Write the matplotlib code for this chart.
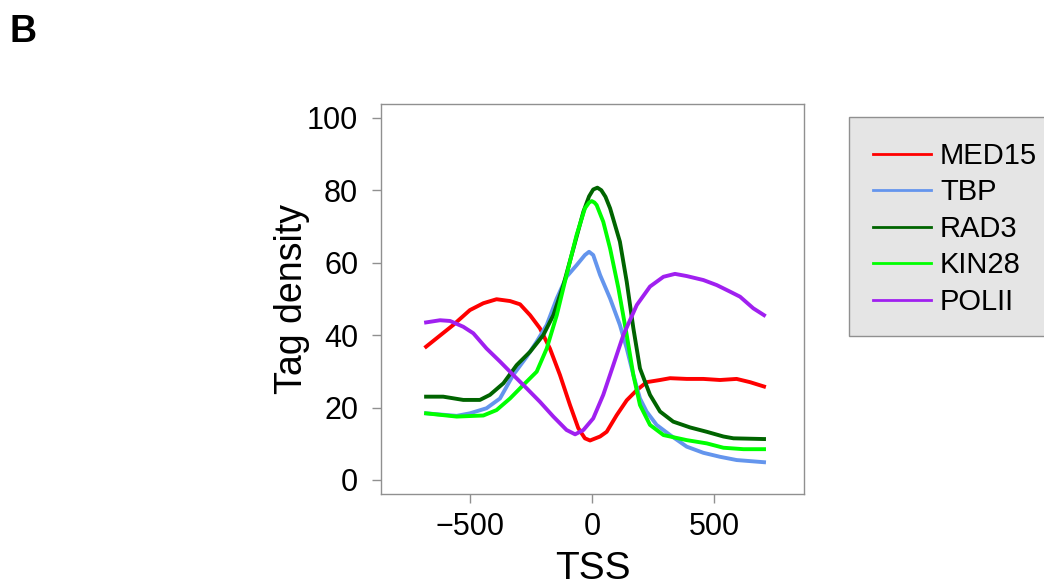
import matplotlib
matplotlib.use("Agg")
import matplotlib.pyplot as plt
from matplotlib.lines import Line2D
from matplotlib.patches import Rectangle

plt.rcParams["font.family"] = ["Liberation Sans", "DejaVu Sans"]

# values (x = distance to TSS, y = tag density)
med15_x = [-678, -567, -499, -444, -390, -335, -294, -253, -213, -172, -131, -90, -56, -29, -8,
           33, 60, 101, 142, 183, 223, 278, 319, 387, 455, 523, 591, 646, 703]
med15_y = [36.8, 42.8, 46.9, 48.8, 49.9, 49.4, 48.5, 45.5, 41.9, 36.3, 29.0, 20.7, 14.3, 11.5, 10.9,
           12.0, 13.3, 17.9, 22.0, 24.8, 27.0, 27.6, 28.1, 27.9, 27.9, 27.6, 27.9, 27.0, 25.8]

tbp_x = [-678, -553, -499, -431, -376, -322, -267, -226, -185, -144, -104, -63, -29, -12, 5,
         33, 74, 114, 142, 169, 196, 223, 264, 319, 387, 455, 523, 591, 703]
tbp_y = [18.4, 17.7, 18.4, 19.8, 22.5, 29.0, 34.0, 38.2, 42.8, 50.1, 56.1, 59.3, 62.1, 63.0, 62.1,
         56.6, 50.1, 42.8, 36.3, 29.0, 22.5, 18.9, 15.2, 12.4, 9.2, 7.5, 6.4, 5.5, 4.9]

rad3_x = [-678, -608, -526, -458, -417, -362, -308, -253, -199, -158, -117, -76, -35, -12, 5, 22,
          38, 55, 74, 114, 142, 169, 196, 237, 278, 332, 401, 469, 537, 578, 703]
rad3_y = [23.0, 23.0, 22.1, 22.1, 23.5, 26.7, 31.7, 35.4, 40.0, 45.5, 53.8, 63.9, 74.1, 78.3, 80.2, 80.7,
          80.0, 78.2, 75.0, 65.8, 54.7, 41.9, 30.8, 23.5, 18.9, 16.1, 14.5, 13.3, 12.0, 11.5, 11.3]

kin28_x = [-678, -553, -444, -390, -335, -281, -226, -185, -144, -104, -63, -29, -12, -1, 10, 19,
           46, 74, 108, 142, 169, 196, 237, 292, 387, 469, 537, 619, 703]
kin28_y = [18.4, 17.5, 17.8, 19.3, 22.5, 26.2, 29.9, 36.3, 45.5, 56.6, 67.6, 75.0, 76.6, 77.0, 76.6, 75.9,
           71.3, 63.9, 52.9, 40.0, 29.0, 20.7, 15.2, 12.4, 11.0, 10.1, 8.9, 8.5, 8.5]

polii_x = [-678, -621, -580, -526, -485, -431, -376, -322, -267, -213, -158, -104, -69, -35, 5,
           46, 87, 128, 183, 237, 292, 339, 387, 455, 510, 564, 605, 659, 703]
polii_y = [43.5, 44.1, 43.9, 42.3, 40.5, 36.3, 32.7, 29.0, 25.3, 21.6, 17.5, 13.8, 12.6, 13.8, 17.0,
           23.5, 31.7, 40.0, 48.3, 53.4, 56.1, 56.9, 56.3, 55.2, 53.8, 52.0, 50.6, 47.4, 45.5]

labels = ["MED15", "TBP", "RAD3", "KIN28", "POLII"]
colors = ["#FF0000", "#6495ED", "#006400", "#00FF00", "#A020F0"]
series = [(med15_x, med15_y), (tbp_x, tbp_y), (rad3_x, rad3_y), (kin28_x, kin28_y), (polii_x, polii_y)]

fig = plt.figure(figsize=(10.44, 5.88), dpi=100)
ax = fig.add_axes([0.365, 0.1594, 0.4055, 0.6637])

for (xs, ys), lab, col in zip(series, labels, colors):
    ax.plot(xs, ys, color=col, linewidth=2.8, label=lab, solid_joinstyle="round")

ax.set_xlim(-862, 868)
ax.set_ylim(-3.95, 103.8)
ax.set_xticks([-500, 0, 500])
ax.set_xticklabels(["\u2212500", "0", "500"])
ax.set_yticks([0, 20, 40, 60, 80, 100])
for sp in ax.spines.values():
    sp.set_color("#909090")
    sp.set_linewidth(1.0)
ax.tick_params(axis="both", direction="out", length=6.5, width=1.0, color="#909090",
               labelsize=22, labelcolor="black")
ax.tick_params(axis="y", pad=10)
ax.tick_params(axis="x", pad=6)
ax.set_xlabel("TSS", fontsize=28, labelpad=7)
ax.set_ylabel("Tag density", fontsize=27)
ax.yaxis.set_label_coords(-0.167, 0.5)

# legend box (runs past the right edge like the original)
fig.patches.append(Rectangle((849 / 1044, 1 - 336 / 588), 210 / 1044, 219 / 588,
                             transform=fig.transFigure, facecolor="#E5E5E5",
                             edgecolor="#909090", linewidth=1.0, zorder=0))
handles = [Line2D([], [], color=c, linewidth=2.0) for c in colors]
fig.legend(handles, labels, loc="upper left", bbox_to_anchor=(873 / 1044, 1 - 142 / 588),
           frameon=False, fontsize=21, handlelength=2.0, handletextpad=0.3,
           labelspacing=0.29, borderpad=0, borderaxespad=0)

fig.text(10 / 1044, 1 - 42 / 588, "B", fontsize=27, fontweight="bold")

plt.savefig("out.png", dpi=100)
plt.close()
